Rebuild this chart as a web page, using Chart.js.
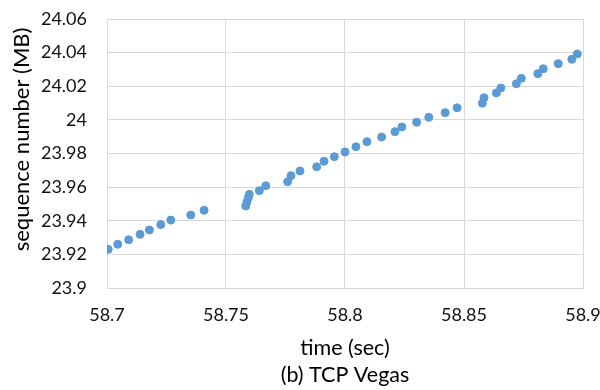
<!DOCTYPE html>
<html>
<head>
<meta charset="utf-8">
<script src="https://cdn.jsdelivr.net/npm/chart.js@4"></script>
<style>
  html, body { margin: 0; padding: 0; background: #fff; }
  #wrap { width: 600px; height: 390px; }
</style>
</head>
<body>
<div id="wrap"><canvas id="chart" width="600" height="390"></canvas></div>
<script>
// time (sec) of each sampled packet
const times = [
  58.7005, 58.7045, 58.7091, 58.7139, 58.7178, 58.7226, 58.7268, 58.7352, 58.7408,
  58.7583, 58.7588, 58.7594, 58.7598, 58.7640, 58.7667, 58.7759, 58.7773, 58.7811,
  58.7881, 58.7912, 58.7955, 58.8000, 58.8046, 58.8092, 58.8154, 58.8210, 58.8239,
  58.8301, 58.8352, 58.8421, 58.8471,
  58.8577, 58.8584, 58.8636, 58.8655, 58.8720, 58.8741, 58.8810, 58.8833, 58.8896,
  58.8953, 58.8976
];
// sequence number (MB)
const seqNums = [
  23.9230, 23.9260, 23.9287, 23.9319, 23.9345, 23.9377, 23.9404, 23.9434, 23.9462,
  23.9488, 23.9512, 23.9537, 23.9557, 23.9579, 23.9608, 23.9632, 23.9668, 23.9696,
  23.9721, 23.9754, 23.9781, 23.9809, 23.9840, 23.9870, 23.9898, 23.9930, 23.9958,
  23.9986, 24.0015, 24.0043, 24.0072,
  24.0099, 24.0132, 24.0160, 24.0190, 24.0215, 24.0247, 24.0275, 24.0304, 24.0334,
  24.0360, 24.0392
];
const xTicks = [58.7, 58.75, 58.8, 58.85, 58.9];
const yTicks = [23.9, 23.92, 23.94, 23.96, 23.98, 24, 24.02, 24.04, 24.06];

const points = times.map((t, i) => ({ x: t, y: seqNums[i] }));
const fontFamily = "Lato, 'Open Sans', sans-serif";
const fmt = v => String(Number(v.toFixed(2)));

new Chart(document.getElementById("chart"), {
  type: "scatter",
  data: {
    datasets: [{
      data: points,
      backgroundColor: "#5b9bd5",
      borderColor: "#5b9bd5",
      pointRadius: 4,
      pointHoverRadius: 4
    }]
  },
  options: {
    responsive: false,
    animation: false,
    layout: { padding: { top: 19, right: 17, left: 0, bottom: 0 } },
    plugins: {
      legend: { display: false },
      tooltip: { enabled: false }
    },
    scales: {
      x: {
        type: "linear",
        min: 58.7,
        max: 58.9,
        afterBuildTicks: s => { s.ticks = xTicks.map(v => ({ value: v })); },
        afterFit: s => {
          s.height = 102;
          s.paddingLeft = 0;
          s.paddingRight = 0;
        },
        grid: { color: "#d9d9d9", drawTicks: false },
        border: { color: "#d9d9d9" },
        ticks: {
          color: "#111",
          padding: 16,
          maxRotation: 0,
          font: { family: fontFamily, size: 18 },
          callback: v => fmt(v)
        },
        title: {
          display: true,
          text: ["time (sec)", "(b) TCP Vegas"],
          color: "#000",
          font: { family: fontFamily, size: 21.5, lineHeight: 1.25 },
          padding: { top: 0, bottom: 1.5 }
        }
      },
      y: {
        type: "linear",
        min: 23.9,
        max: 24.06,
        afterBuildTicks: s => { s.ticks = yTicks.map(v => ({ value: v })); },
        afterFit: s => {
          s.width = 107;
          s.paddingTop = 0;
          s.paddingBottom = 0;
        },
        grid: { color: "#d9d9d9", drawTicks: false },
        border: { color: "#d9d9d9" },
        ticks: {
          color: "#111",
          padding: 20,
          font: { family: fontFamily, size: 18 },
          callback: v => fmt(v)
        },
        title: {
          display: true,
          text: "     sequence number (MB)",
          color: "#000",
          font: { family: fontFamily, size: 22, lineHeight: 1.2 },
          padding: { top: 9, bottom: 0 }
        }
      }
    }
  }
});
</script>
</body>
</html>
